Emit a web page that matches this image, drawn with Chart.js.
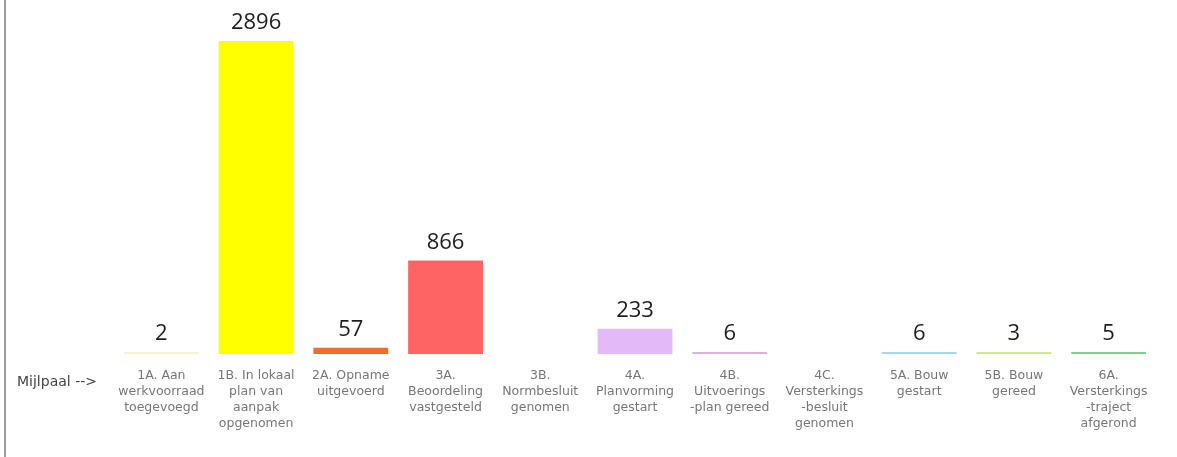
<!DOCTYPE html>
<html>
<head>
<meta charset="utf-8">
<script src="https://cdn.jsdelivr.net/npm/chart.js@4/dist/chart.umd.min.js"></script>
<style>
  body { margin: 0; background: #fff; }
  #wrap { position: relative; width: 1177px; height: 457px; }
  #wrap::before { content: ''; position: absolute; left: 4px; top: 0; bottom: 0; width: 2px; background: #9a9a9a; }
</style>
</head>
<body>
<div id="wrap"><canvas id="chart" width="1177" height="457"></canvas></div>
<script>
const categories = [
    ['1A. Aan', 'werkvoorraad', 'toegevoegd'],
    ['1B. In lokaal', 'plan van', 'aanpak', 'opgenomen'],
    ['2A. Opname', 'uitgevoerd'],
    ['3A.', 'Beoordeling', 'vastgesteld'],
    ['3B.', 'Normbesluit', 'genomen'],
    ['4A.', 'Planvorming', 'gestart'],
    ['4B.', 'Uitvoerings', '-plan gereed'],
    ['4C.', 'Versterkings', '-besluit', 'genomen'],
    ['5A. Bouw', 'gestart'],
    ['5B. Bouw', 'gereed'],
    ['6A.', 'Versterkings', '-traject', 'afgerond']
]
const counts = [2, 2896, 57, 866, 0, 233, 6, 0, 6, 3, 5]
const barColors = ['#f7f4cc', '#ffff00', '#ee6e2a', '#ff6464', 'rgba(0,0,0,0)', '#e3b9f8',
    '#dcb0dc', 'rgba(0,0,0,0)', '#a9d7ea', '#cde88e', '#7fcf91']
const axisLabel = 'Mijlpaal -->'

const valueLabels = {
    id: 'valueLabels',
    afterDatasetsDraw(chart) {
        const c = chart.ctx
        const meta = chart.getDatasetMeta(0)
        c.save()
        c.font = '22px "Open Sans"'
        c.fillStyle = '#1e1e1e'
        c.textAlign = 'center'
        c.textBaseline = 'middle'
        meta.data.forEach((bar, i) => {
            const v = chart.data.datasets[0].data[i]
            if (!v) return
            c.fillText(String(v), bar.x, bar.y - 18)
        })
        // axis caption, on the first line of the category labels
        c.font = '14px "DejaVu Sans"'
        c.fillStyle = '#444'
        c.textAlign = 'left'
        c.fillText(axisLabel, 17, chart.chartArea.bottom + 28)
        c.restore()
    }
}

new Chart(document.getElementById('chart'), {
    type: 'bar',
    data: {
        labels: categories,
        datasets: [{
            data: counts,
            backgroundColor: barColors,
            borderWidth: 0,
            minBarLength: 2,
            barPercentage: 0.79,
            categoryPercentage: 1
        }]
    },
    options: {
        responsive: false,
        animation: false,
        layout: { padding: { left: 114, right: 21, top: 41, bottom: 11 } },
        plugins: { legend: { display: false }, tooltip: { enabled: false } },
        scales: {
            x: {
                grid: { display: false, drawTicks: false },
                border: { display: false },
                ticks: {
                    autoSkip: false,
                    maxRotation: 0,
                    padding: 14,
                    color: '#777',
                    font: { family: 'DejaVu Sans', size: 12.5, lineHeight: 16 / 12.5 }
                }
            },
            y: { display: false, min: 0, max: 2896 }
        }
    },
    plugins: [valueLabels]
});
</script>
</body>
</html>
